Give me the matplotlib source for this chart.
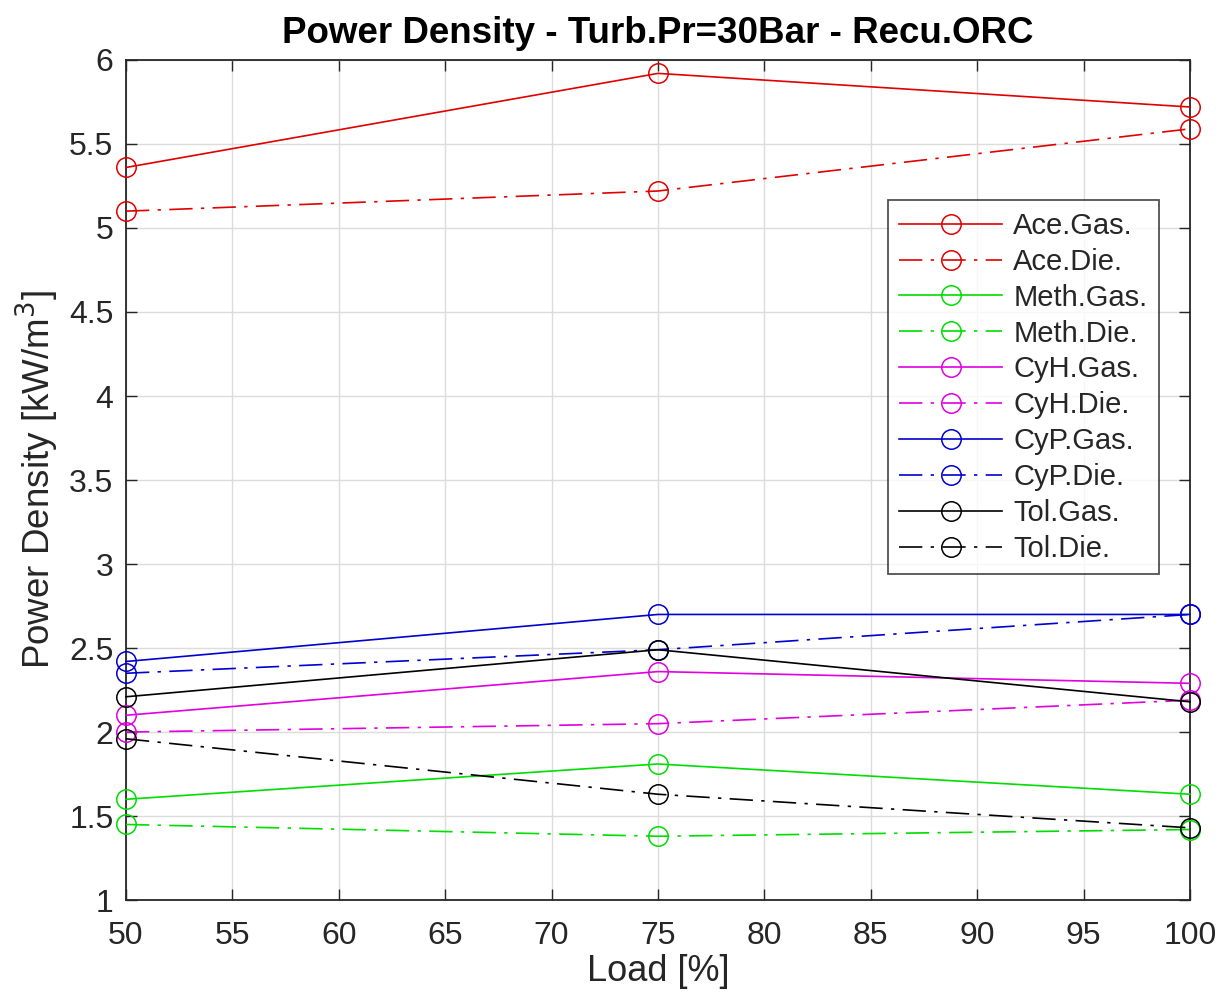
import matplotlib
matplotlib.use("Agg")
import matplotlib.pyplot as plt

plt.rcParams['font.family'] = ['Liberation Sans', 'DejaVu Sans']

load = [50, 75, 100]

ace_gas = [5.36, 5.92, 5.72]
ace_die = [5.10, 5.22, 5.59]
meth_gas = [1.60, 1.81, 1.63]
meth_die = [1.45, 1.38, 1.42]
cyh_gas = [2.10, 2.36, 2.29]
cyh_die = [2.00, 2.05, 2.19]
cyp_gas = [2.42, 2.70, 2.70]
cyp_die = [2.35, 2.49, 2.70]
tol_gas = [2.21, 2.49, 2.18]
tol_die = [1.96, 1.63, 1.43]

labels = ['Ace.Gas.', 'Ace.Die.', 'Meth.Gas.', 'Meth.Die.', 'CyH.Gas.',
          'CyH.Die.', 'CyP.Gas.', 'CyP.Die.', 'Tol.Gas.', 'Tol.Die.']
series = [ace_gas, ace_die, meth_gas, meth_die, cyh_gas,
          cyh_die, cyp_gas, cyp_die, tol_gas, tol_die]
colors = ['#e00000', '#e00000', '#00dd00', '#00dd00', '#e000e0',
          '#e000e0', '#0000d0', '#0000d0', '#000000', '#000000']

xticks = list(range(50, 101, 5))
yticks = [1, 1.5, 2, 2.5, 3, 3.5, 4, 4.5, 5, 5.5, 6]
ytick_labels = ['1', '1.5', '2', '2.5', '3', '3.5', '4', '4.5', '5', '5.5', '6']

fig = plt.figure(figsize=(12.23, 9.99), dpi=100)
ax = fig.add_axes([0.103, 0.099, 0.870, 0.841])

dashdot = (0, (14, 5, 2, 5))
for i, (lab, ys, c) in enumerate(zip(labels, series, colors)):
    ls = '-' if i % 2 == 0 else dashdot
    ax.plot(load, ys, linestyle=ls, color=c, lw=1.2, marker='o',
            markersize=14, markerfacecolor='none', markeredgecolor=c,
            markeredgewidth=1.1, label=lab, clip_on=False, zorder=3)

ax.set_xlim(50, 100)
ax.set_ylim(1, 6)
ax.set_xticks(xticks)
ax.set_yticks(yticks)
ax.set_yticklabels(ytick_labels)
ax.grid(True, color='#dcdcdc', lw=1.0)
ax.set_axisbelow(True)
ax.tick_params(direction='in', length=8, width=1.0, labelsize=23,
               top=True, right=True, colors='#262626')
ax.tick_params(axis='x', pad=15)
ax.tick_params(axis='y', pad=9)
for sp in ax.spines.values():
    sp.set_linewidth(1.3)
    sp.set_color('#262626')

ax.set_xlabel('Load [%]', fontsize=26, color='#262626', labelpad=2)
ax.set_ylabel('Power Density [kW/m$^3$]', fontsize=26.5, color='#262626', labelpad=6)
ax.set_title('Power Density - Turb.Pr=30Bar - Recu.ORC', fontsize=26.5,
             fontweight='bold', pad=12)

leg = ax.legend(loc='upper left', bbox_to_anchor=(0.716, 0.833), fontsize=21,
                frameon=True, fancybox=False, edgecolor='#262626',
                handlelength=3.5, labelspacing=0.27, borderpad=0.4,
                handletextpad=0.4, borderaxespad=0)
leg.get_frame().set_linewidth(1.3)
for t in leg.get_texts():
    t.set_color('#262626')

fig.savefig('out.png', dpi=100)
